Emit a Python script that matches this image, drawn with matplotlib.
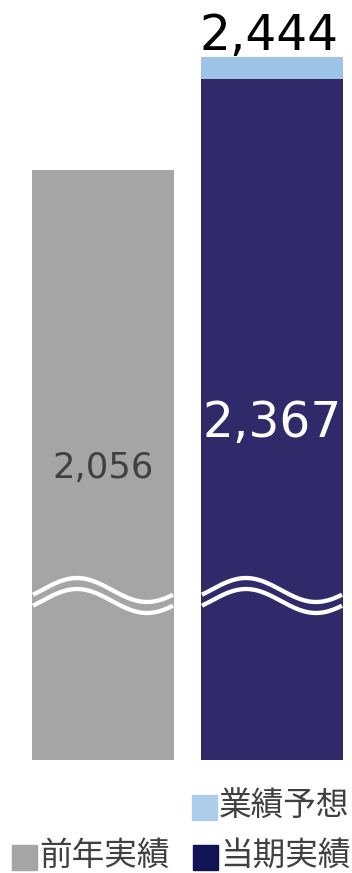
import numpy as np
import matplotlib
matplotlib.use('Agg')
import matplotlib.pyplot as plt
from matplotlib.patches import Rectangle
from matplotlib.transforms import blended_transform_factory

# Data
categories = ['前年実績', '当期実績']
actual = [2056, 2367]
forecast_total = 2444
bar_colors = ['#a5a5a5', '#302a6b']
forecast_color = '#9dc3e6'
legend_labels = ['業績予想', '前年実績', '当期実績']
legend_colors = ['#aecdec', '#a5a5a5', '#111454']

plt.rcParams['font.family'] = ['DejaVu Sans', 'Noto Sans CJK JP']

W, H = 352, 873
fig = plt.figure(figsize=(W / 100, H / 100), dpi=100)
ax = fig.add_axes([0, (H - 760) / H, 1, 760 / H])

x = np.arange(len(categories))
ax.bar(x, actual, width=0.84, color=bar_colors)
ax.bar(x[1], forecast_total - actual[1], bottom=actual[1], width=0.84, color=forecast_color)

ax.set_xlim(-103 / 169, (W - 103) / 169)
ax.set_ylim(40, 2638)
ax.axis('off')

# value labels
ax.text(x[0], actual[0] / 2 + 10, f'{actual[0]:,}', ha='center', va='center',
        fontsize=25.5, color='#404040')
ax.text(x[1], actual[1] / 2 + 10, f'{actual[1]:,}', ha='center', va='center',
        fontsize=35, color='white')
ax.annotate(f'{forecast_total:,}', (x[1], forecast_total), xytext=(-2, 5),
            textcoords='offset points', ha='center', va='baseline',
            fontsize=35, color='black')

# wavy break marks
trans = blended_transform_factory(ax.transData, ax.transAxes)
rel = np.linspace(-70, 70, 200)
for i in x:
    for shift in (0, 11):
        y_top = 590 - 12 * np.cos(2 * np.pi * (rel + 26) / 140) + shift
        ax.plot(i + rel / 169, (760 - y_top) / 760, color='white', lw=3.1,
                solid_capstyle='butt', transform=trans)

# legend
def legend_item(px, py, color, label):
    fig.add_artist(Rectangle((px / W, 1 - (py + 25) / H), 25 / W, 25 / H,
                             color=color, transform=fig.transFigure))
    fig.text((px + 27) / W, 1 - (py + 11) / H, label, fontsize=23.5,
             family=['Noto Sans CJK JP', 'DejaVu Sans'], color='#404040',
             ha='left', va='center')

legend_item(192, 795, legend_colors[0], legend_labels[0])
legend_item(12, 845, legend_colors[1], legend_labels[1])
legend_item(193, 845, legend_colors[2], legend_labels[2])

fig.savefig('out.png', dpi=100)
